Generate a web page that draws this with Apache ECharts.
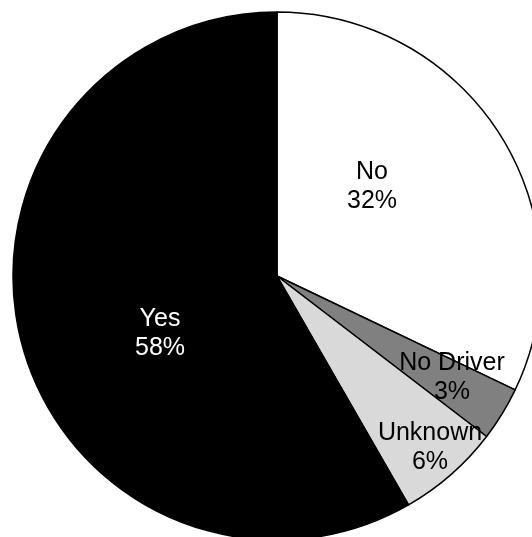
<!DOCTYPE html>
<html>
<head>
<meta charset="utf-8">
<script src="https://cdn.jsdelivr.net/npm/echarts@6/dist/echarts.min.js"></script>
<style>
html,body{margin:0;padding:0;background:#fff;}
#chart{width:532px;height:537px;}
</style>
</head>
<body>
<div id="chart"></div>
<script>
var categories = ['No', 'No Driver', 'Unknown', 'Yes'];
var values = [32.1, 3.3, 6.3, 58.3];
var percentLabels = ['32%', '3%', '6%', '58%'];

var sliceColors = ['#ffffff', '#808080', '#d9d9d9', '#000000'];
var textColors = ['#000000', '#000000', '#000000', '#ffffff'];
var labelSpots = [[372, 187], [452, 378], [430, 448], [160, 334]];

var chart = echarts.init(document.getElementById('chart'), null, {renderer: 'canvas'});
chart.setOption({
  animation: false,
  series: [{
    type: 'pie',
    center: [277, 276],
    radius: 264,
    startAngle: 90,
    clockwise: true,
    avoidLabelOverlap: false,
    itemStyle: {borderColor: '#000', borderWidth: 1.5},
    emphasis: {disabled: true},
    label: {
      show: true,
      position: 'inside',
      fontFamily: 'Liberation Sans, Arial, sans-serif',
      fontSize: 25,
      lineHeight: 29,
      align: 'center',
      verticalAlign: 'middle',
      formatter: function (p) { return categories[p.dataIndex] + '\n' + percentLabels[p.dataIndex]; }
    },
    labelLine: {show: false},
    labelLayout: function (p) {
      var s = labelSpots[p.dataIndex];
      return {x: s[0], y: s[1], align: 'center', verticalAlign: 'middle'};
    },
    data: categories.map(function (c, i) {
      return {
        name: c,
        value: values[i],
        itemStyle: {color: sliceColors[i]},
        label: {color: textColors[i]}
      };
    })
  }]
});
</script>
</body>
</html>
